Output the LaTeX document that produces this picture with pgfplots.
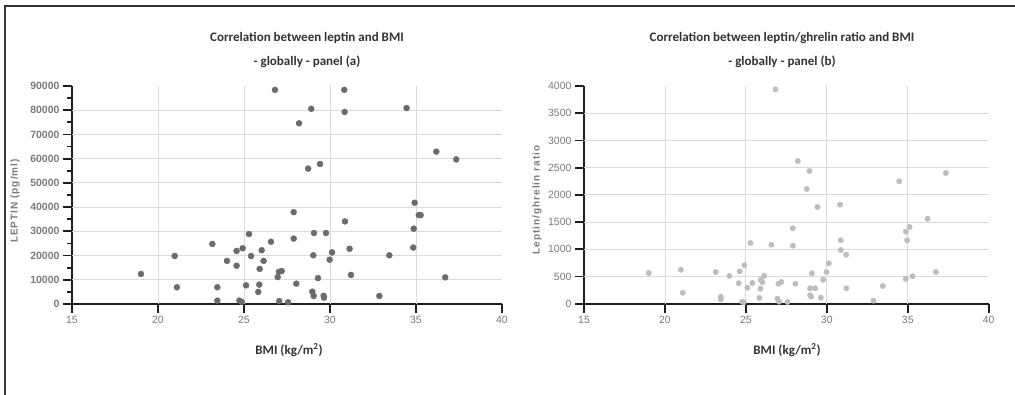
\documentclass[border=0pt]{standalone}
\usepackage{pgfplots}
\pgfplotsset{compat=1.18}
\usepackage{fontspec}
\setmainfont{Liberation Sans}
\newfontfamily\calibri{Carlito}
\newfontfamily\labfont[LetterSpace=10]{Liberation Sans}

\definecolor{dotdark}{HTML}{6B6B6B}
\definecolor{dotlight}{HTML}{BDBDBD}
\definecolor{ticktext}{HTML}{7A7A7A}
\definecolor{axisline}{HTML}{1E1E1E}
\definecolor{gridc}{HTML}{DADADA}
\definecolor{titlec}{HTML}{333333}

\pgfplotsset{
  panel/.style={
    scale only axis, anchor=south west,
    axis x line*=bottom, axis y line*=left,
    axis line style={-, line width=2pt, draw=axisline},
    tick style={line width=1.8pt, draw=axisline},
    tick align=outside,
    major tick length=9pt, minor tick length=5pt,
    xmin=15, xmax=40, xtick={15,20,...,40},
    scaled ticks=false,
    /pgf/number format/1000 sep={},
    /pgf/number format/assume math mode=true,
    tick label style={font=\fontsize{10.5}{12}\selectfont, text=ticktext},
    extra x ticks={20,25,30,35}, extra x tick labels={},
    extra x tick style={grid=major},
    extra y tick style={grid=major},
    major grid style={draw=gridc, line width=0.8pt},
    clip=false,
  },
}
\tikzset{
  titlefont/.style={font=\calibri\bfseries\fontsize{13}{15}\selectfont, text=titlec},
  ylabfont/.style={font=\labfont\bfseries\fontsize{10}{12}\selectfont, text=ticktext, rotate=90},
}

\begin{document}
\begin{tikzpicture}[x=1pt,y=1pt]
\useasboundingbox (0,0) rectangle (1015,395);
% outer frame
\draw[line width=2pt, draw=titlec] (5,0) -- (5,389) -- (1015,389);

% panel (a): leptin vs BMI
\begin{axis}[panel, at={(72pt,91pt)}, width=430pt, height=218pt,
  ymin=0, ymax=90000, ytick={0,10000,...,90000}, minor y tick num=1,
  extra y ticks={10000,20000,...,80000}, extra y tick labels={},
  yticklabel style={font=\bfseries\fontsize{10.5}{12}\selectfont},
  tick align=outside]
\addplot[only marks, mark=*, mark size=3pt, mark options={fill=dotdark, draw=dotdark}]
coordinates {
(19.01,12400) (20.97,19800) (21.10,6900) (23.16,24800) (23.45,6900)
(23.45,1400) (24.01,17800) (24.57,21900) (24.57,15800) (24.92,23000)
(24.73,1400) (24.86,900) (25.12,7700) (25.29,28900) (25.41,19800)
(26.03,22200) (26.14,17800) (25.91,14500) (25.89,8000) (25.83,5000)
(26.57,25700) (26.96,11100) (27.03,13300) (27.19,13600) (27.05,1200)
(27.56,700) (27.89,37900) (27.89,27000) (28.04,8400) (28.73,55900)
(29.42,57800) (29.07,29300) (29.77,29300) (29.03,20100) (30.12,21300)
(29.98,18300) (29.30,10700) (28.97,5100) (29.05,3300) (29.63,3400)
(29.65,2600) (30.87,34100) (31.14,22800) (31.22,12000) (32.87,3300)
(33.45,20100) (34.92,41800) (35.16,36700) (35.27,36700) (34.87,31100)
(34.84,23300) (36.70,11000) (36.18,62900) (37.34,59700) (26.80,88400)
(30.83,88400) (28.91,80600) (30.85,79300) (28.20,74600) (34.45,80900)
};
\end{axis}

% panel (b): leptin/ghrelin ratio vs BMI
\begin{axis}[panel, at={(584pt,91.3pt)}, width=404.7pt, height=217.7pt,
  ymin=0, ymax=4000, ytick={0,500,...,4000},
  extra y ticks={500,1000,...,3500}, extra y tick labels={},
  tick align=outside]
\addplot[only marks, mark=*, mark size=2.7pt, mark options={fill=dotlight, draw=dotlight}]
coordinates {
(19.00,564) (20.98,625) (21.10,202) (23.14,582) (23.45,129)
(23.45,81) (23.98,509) (24.62,595) (24.56,375) (24.91,705)
(24.77,37) (24.87,26) (25.28,1115) (25.40,380) (25.09,294)
(25.92,441) (26.02,393) (26.14,514) (25.90,276) (25.84,105)
(26.58,1084) (27.01,367) (27.19,399) (26.95,92) (27.05,37)
(27.57,31) (27.90,1385) (27.90,1066) (28.06,367) (28.21,2621)
(28.93,2438) (28.76,2107) (29.42,1776) (29.07,558) (28.97,283)
(29.28,283) (28.97,154) (29.03,129) (29.63,110) (29.77,441)
(29.98,582) (30.12,742) (30.82,1819) (30.86,1165) (30.86,986)
(31.19,900) (31.21,283) (32.88,55) (33.46,325) (34.47,2248)
(34.88,1323) (35.11,1409) (34.96,1165) (34.88,454) (35.29,503)
(36.22,1561) (36.74,582) (37.35,2401) (26.83,3938)
};
\end{axis}

% titles
\node[titlefont] at (307,357) {Correlation between leptin and BMI};
\node[titlefont] at (307,333) {- globally - panel (a)};
\node[titlefont] at (782,357) {Correlation between leptin/ghrelin ratio and BMI};
\node[titlefont] at (782,333) {- globally - panel (b)};

% axis labels
\node[titlefont] at (289,45) {BMI (kg/m\textsuperscript{2})};
\node[titlefont] at (787,45) {BMI (kg/m\textsuperscript{2})};
\node[ylabfont] at (15,194) {LEPTIN (pg/ml)};
\node[ylabfont] at (537,195) {Leptin/ghrelin ratio};
\end{tikzpicture}
\end{document}
